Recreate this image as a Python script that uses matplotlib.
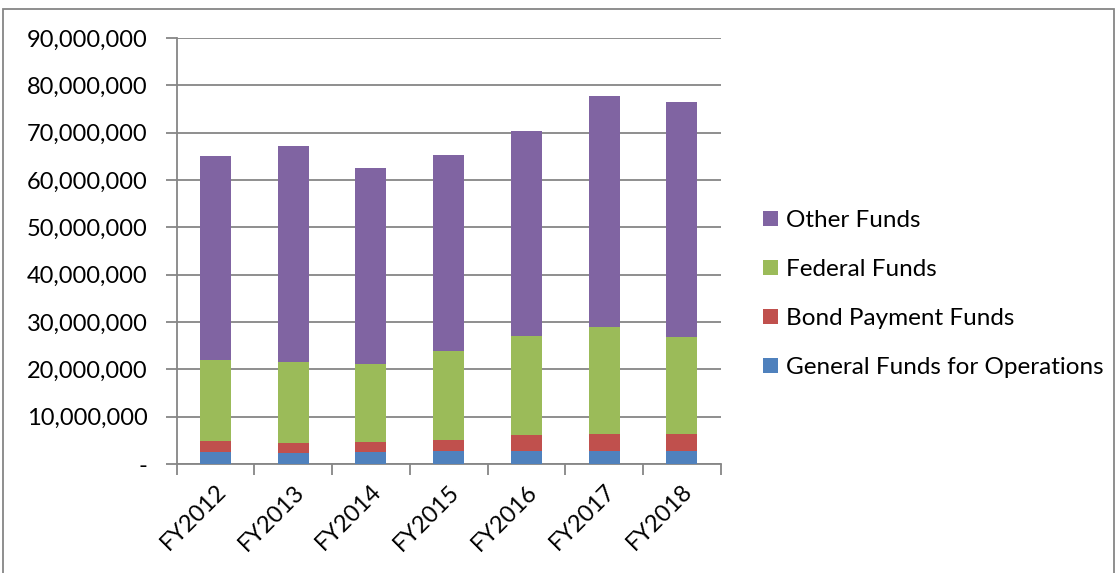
import matplotlib.pyplot as plt
import matplotlib.ticker as mticker
from matplotlib.patches import Rectangle

years = ["FY2012", "FY2013", "FY2014", "FY2015", "FY2016", "FY2017", "FY2018"]

# segment values (dollars)
general = [2470000, 2330000, 2540000, 2690000, 2690000, 2830000, 2830000]
bond = [2330000, 2050000, 2060000, 2400000, 3390000, 3460000, 3460000]
federal = [17100000, 17120000, 16600000, 18710000, 21020000, 22710000, 20610000]
other = [43200000, 45700000, 41400000, 41500000, 43300000, 48700000, 49600000]

plt.rcParams["font.family"] = ["Lato", "DejaVu Sans"]

fig = plt.figure(figsize=(11.18, 5.73), dpi=100)
ax = fig.add_axes([0.158, 0.190, 0.4866, 0.7437])

x = list(range(len(years)))
w = 0.4
b1 = general
b2 = [general[i] + bond[i] for i in x]
b3 = [b2[i] + federal[i] for i in x]

ax.bar(x, general, w, color="#4F81BD", label="General Funds for Operations", zorder=3)
ax.bar(x, bond, w, bottom=b1, color="#C0504D", label="Bond Payment Funds", zorder=3)
ax.bar(x, federal, w, bottom=b2, color="#9BBB59", label="Federal Funds", zorder=3)
ax.bar(x, other, w, bottom=b3, color="#8064A2", label="Other Funds", zorder=3)

ax.set_xlim(-0.5, len(years) - 0.5)
ax.set_ylim(0, 90000000)
ax.yaxis.set_major_locator(mticker.MultipleLocator(10000000))
ax.yaxis.set_major_formatter(mticker.FuncFormatter(lambda v, p: "-" if v == 0 else f"{int(v):,}"))
ax.grid(axis="y", color="#868686", linewidth=1.3, zorder=0)

ax.set_xticks(x)
ax.set_xticklabels(years, rotation=45, ha="right", rotation_mode="anchor", fontsize=17)
ax.set_xticks([i - 0.5 for i in range(len(years) + 1)], minor=True)
ax.tick_params(axis="x", which="major", length=0, pad=12)
ax.tick_params(axis="x", which="minor", length=8, color="#868686", width=1.3)
ax.tick_params(axis="y", length=8, color="#868686", width=1.3, labelsize=17, pad=13)

for s in ["top", "right"]:
    ax.spines[s].set_visible(False)
for s in ["left", "bottom"]:
    ax.spines[s].set_color("#868686")
    ax.spines[s].set_linewidth(1.3)

h, l = ax.get_legend_handles_labels()
fig.legend(h[::-1], l[::-1], loc="center left", bbox_to_anchor=(0.6825, 0.487),
           frameon=False, fontsize=17.5, handlelength=0.6, handleheight=0.6,
           handletextpad=0.33, labelspacing=1.15, borderpad=0, borderaxespad=0)

fig.patches.append(Rectangle((0.003, -0.01), 0.993, 0.995, transform=fig.transFigure,
                             fill=False, edgecolor="#868686", linewidth=1.3))

fig.savefig("out.png", dpi=100)
